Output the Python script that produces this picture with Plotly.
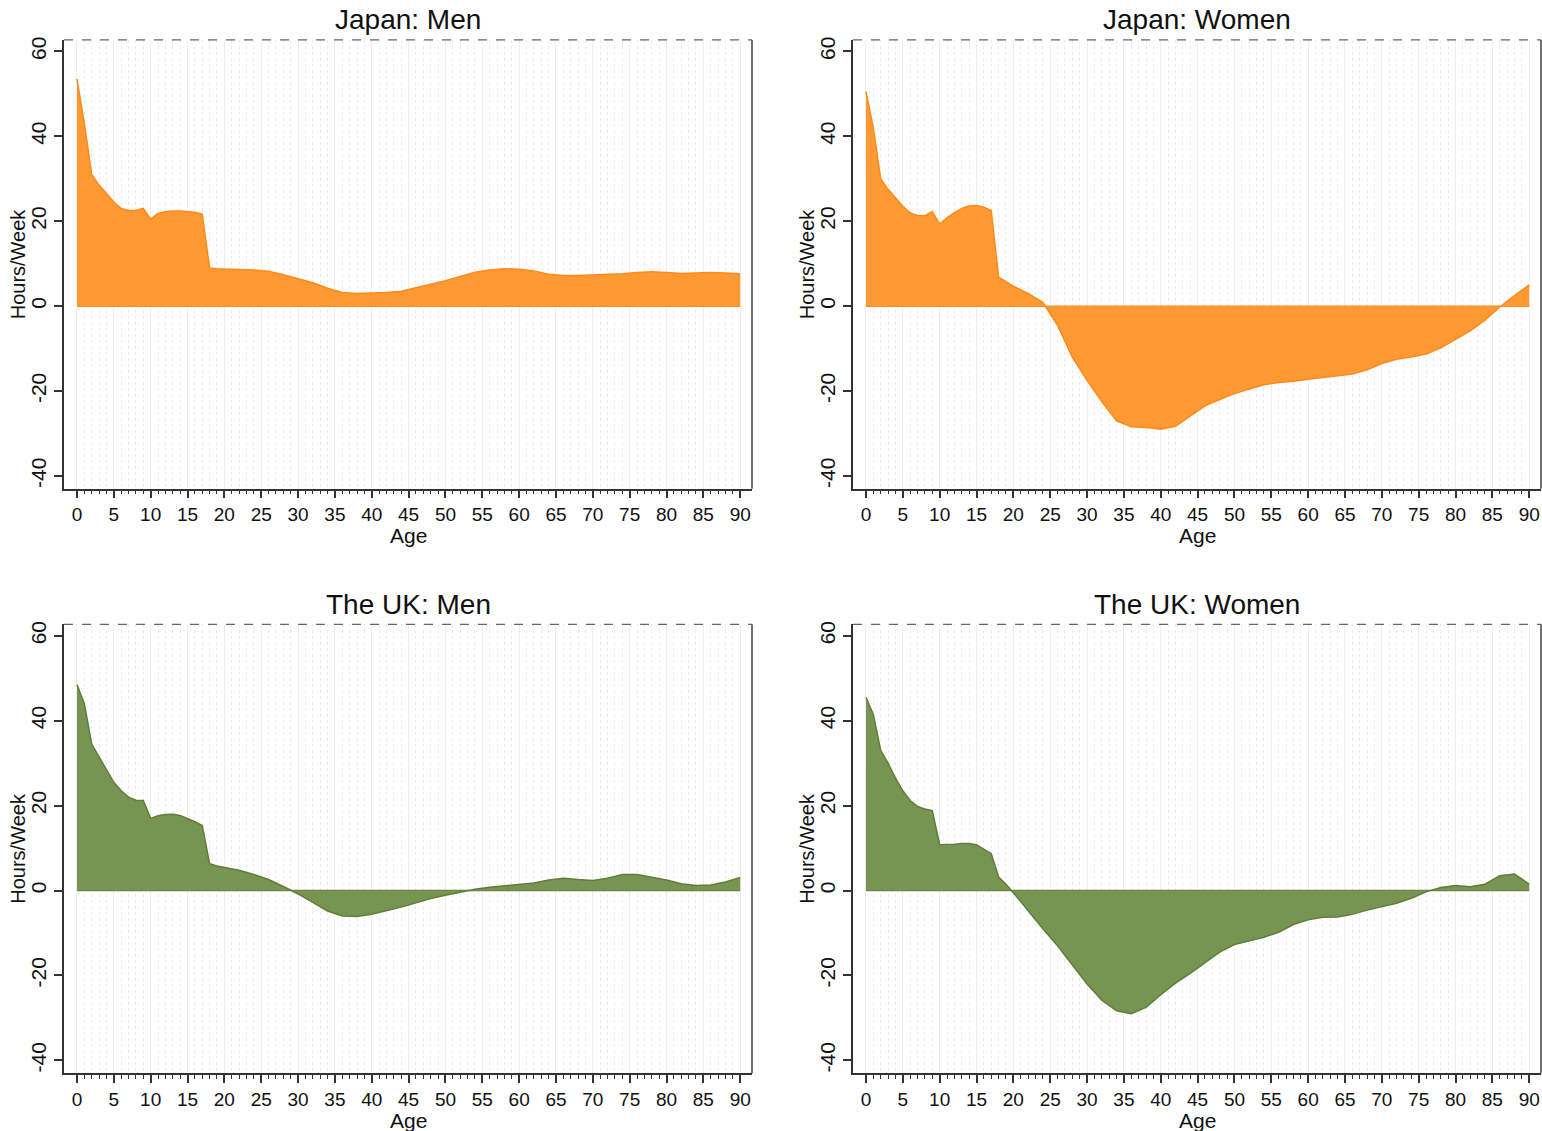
import plotly.graph_objects as go

ages = [0, 1, 2, 3, 4, 5, 6, 7, 8, 9, 10, 11, 12, 13, 14, 15, 16, 17, 18, 19, 20,
        22, 24, 26, 28, 30, 32, 34, 36, 38, 40, 42, 44, 46, 48, 50, 52, 54, 56, 58,
        60, 62, 64, 66, 68, 70, 72, 74, 76, 78, 80, 82, 84, 86, 88, 90]

japan_men = [53.5, 43, 31, 28.5, 26.5, 24.5, 23, 22.5, 22.5, 23, 20.5, 21.8, 22.2, 22.4, 22.4, 22.3, 22.1, 21.7, 9, 8.8, 8.7,
             8.6, 8.5, 8.2, 7.4, 6.5, 5.5, 4.2, 3.2, 3.0, 3.1, 3.2, 3.5, 4.3, 5.2, 6.0, 7.0, 8.0, 8.5, 8.8,
             8.7, 8.3, 7.5, 7.2, 7.2, 7.3, 7.4, 7.6, 7.9, 8.1, 7.9, 7.7, 7.8, 7.9, 7.8, 7.6]

japan_women = [50.5, 42, 30, 27.5, 25.5, 23.5, 22, 21.3, 21.3, 22.3, 19.3, 20.8, 22, 23, 23.6, 23.7, 23.3, 22.5, 6.8, 5.8, 4.7,
               3.0, 0.9, -4.5, -12.0, -17.5, -22.5, -27.0, -28.4, -28.6, -29.0, -28.3, -26.0, -23.5, -22.0, -20.6, -19.5, -18.5, -18.0, -17.7,
               -17.2, -16.8, -16.3, -16.0, -15.0, -13.5, -12.5, -12.0, -11.3, -9.8, -7.8, -5.8, -3.3, -0.2, 2.5, 5.0]

uk_men = [48.5, 44, 34.5, 31.5, 28.5, 25.5, 23.5, 22, 21.3, 21.2, 17, 17.6, 17.9, 18, 17.7, 17, 16.2, 15.3, 6.3, 5.8, 5.5,
          4.8, 3.8, 2.6, 1.0, -0.8, -2.8, -4.8, -6.0, -6.1, -5.6, -4.8, -3.9, -2.9, -1.9, -1.1, -0.4, 0.3, 0.8, 1.1,
          1.4, 1.8, 2.5, 2.9, 2.6, 2.4, 2.9, 3.8, 3.8, 3.2, 2.5, 1.6, 1.2, 1.3, 2.0, 3.1]

uk_women = [45.5, 41.5, 33, 30, 26.5, 23.5, 21.2, 19.8, 19.2, 18.8, 10.8, 10.8, 10.9, 11.1, 11.1, 10.8, 9.8, 8.7, 3.2, 1.5, -0.5,
            -4.8, -9.0, -13.0, -17.5, -22.0, -25.8, -28.3, -29.0, -27.5, -24.5, -21.8, -19.5, -17.0, -14.5, -12.7, -11.8, -11.0, -9.8, -8.0,
            -6.9, -6.3, -6.2, -5.6, -4.6, -3.8, -3.0, -1.8, -0.3, 0.7, 1.2, 0.9, 1.5, 3.5, 3.9, 1.5]

titles = ["Japan: Men", "Japan: Women", "The UK: Men", "The UK: Women"]
series = [japan_men, japan_women, uk_men, uk_women]

x_ticks = [0, 5, 10, 15, 20, 25, 30, 35, 40, 45, 50, 55, 60, 65, 70, 75, 80, 85, 90]
y_ticks = [-40, -20, 0, 20, 40, 60]
y_ticklabels = ["-40", "-20", "0", "20", "40", "60"]
minor_ticks = list(range(0, 91))

ORANGE_FILL = "#FF9933"
ORANGE_LINE = "#FF8A1C"
GREEN_FILL = "#789452"
GREEN_LINE = "#5F7E3A"
fills = [ORANGE_FILL, ORANGE_FILL, GREEN_FILL, GREEN_FILL]
lines = [ORANGE_LINE, ORANGE_LINE, GREEN_LINE, GREEN_LINE]

W, H = 1542, 1131
# plot areas in page pixels (left, right, top, bottom)
boxes = [(64, 752, 37, 487), (853, 1541, 37, 487), (64, 752, 623, 1073), (853, 1541, 623, 1073)]

FONT = "Liberation Sans, Arial, sans-serif"
fig = go.Figure()
shapes = []
annotations = []


def px_x(p):
    return p / W


def px_y(p):
    return 1 - p / H


for i, (title, vals) in enumerate(zip(titles, series)):
    n = i + 1
    xa = "x" if n == 1 else f"x{n}"
    ya = "y" if n == 1 else f"y{n}"
    fig.add_trace(go.Scatter(x=ages, y=[0] * len(ages), mode="lines",
                             line=dict(color=lines[i], width=1.5),
                             xaxis=xa, yaxis=ya, showlegend=False, hoverinfo="skip"))
    fig.add_trace(go.Scatter(x=ages, y=vals, mode="lines", fill="tozeroy",
                             fillcolor=fills[i], line=dict(color=lines[i], width=1.5),
                             xaxis=xa, yaxis=ya, showlegend=False))
    l, r, t, b = boxes[i]
    xdom = [px_x(l), min(px_x(r), 1.0)]
    ydom = [px_y(b), px_y(t)]
    xkey = "xaxis" if n == 1 else f"xaxis{n}"
    ykey = "yaxis" if n == 1 else f"yaxis{n}"
    fig.update_layout(**{
        xkey: dict(domain=xdom, anchor=ya, range=[-1.76, 91.6],
                   tickmode="array", tickvals=x_ticks, ticks="outside", ticklen=8,
                   tickwidth=1.5, tickcolor="#333333",
                   showline=True, linecolor="#333333", linewidth=1.5,
                   showgrid=True, gridcolor="#EEEEEE", gridwidth=1,
                   zeroline=False,
                   minor=dict(tickmode="array", tickvals=minor_ticks, ticks="outside",
                              ticklen=4, tickwidth=1, tickcolor="#333333",
                              showgrid=True, gridcolor="#EBEBEB", griddash="dot", gridwidth=1),
                   tickfont=dict(size=19, color="#111111", family=FONT)),
        ykey: dict(domain=ydom, anchor=xa, range=[-43.0, 62.7],
                   tickmode="array", tickvals=y_ticks, ticktext=y_ticklabels,
                   ticks="outside", ticklen=8,
                   tickwidth=1.5, tickcolor="#333333", tickangle=-90,
                   showline=True, linecolor="#333333", linewidth=1.5,
                   showgrid=False, zeroline=False,
                   tickfont=dict(size=21, color="#111111", family=FONT)),
    })
    # dashed top border and solid right border
    shapes.append(dict(type="line", xref="paper", yref="paper", x0=xdom[0], x1=xdom[1],
                       y0=ydom[1], y1=ydom[1], line=dict(color="#666666", width=1.2, dash="dash")))
    shapes.append(dict(type="line", xref="paper", yref="paper", x0=xdom[1], x1=xdom[1],
                       y0=ydom[0], y1=ydom[1], line=dict(color="#444444", width=1.5)))
    annotations.append(dict(text=title, xref="paper", yref="paper",
                            x=(xdom[0] + xdom[1]) / 2, y=px_y(t - 20),
                            xanchor="center", yanchor="middle", showarrow=False,
                            font=dict(size=28, color="#111111", family=FONT)))
    annotations.append(dict(text="Age", xref="paper", yref="paper",
                            x=(xdom[0] + xdom[1]) / 2, y=px_y(b + 47),
                            xanchor="center", yanchor="middle", showarrow=False,
                            font=dict(size=21, color="#111111", family=FONT)))
    annotations.append(dict(text="Hours/Week", xref="paper", yref="paper",
                            x=px_x(l - 46), y=(ydom[0] + ydom[1]) / 2, textangle=-90,
                            xanchor="center", yanchor="middle", showarrow=False,
                            font=dict(size=20, color="#111111", family=FONT)))

fig.update_layout(width=W, height=H, margin=dict(l=0, r=0, t=0, b=0),
                  paper_bgcolor="white", plot_bgcolor="white",
                  shapes=shapes, annotations=annotations, showlegend=False,
                  font=dict(family=FONT))

fig.write_html("out.html", config={"displayModeBar": False},
               post_script="document.body.style.margin='0';document.body.style.overflow='hidden';document.documentElement.style.overflow='hidden';")
